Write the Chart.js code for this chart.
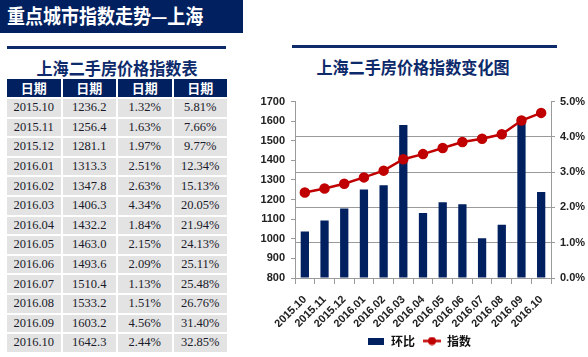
<!DOCTYPE html>
<html>
<head>
<meta charset="utf-8">
<script src="https://cdn.jsdelivr.net/npm/chart.js@4.4.1/dist/chart.umd.min.js"></script>
<style>
  html, body { margin:0; padding:0; background:#fff; width:588px; height:357px; overflow:hidden; position:relative; }
  .cjk { font-family: "Noto Sans CJK SC", "Noto Sans", sans-serif; }
  #hdr { position:absolute; left:0; top:0; width:243px; height:33px; background:#002060; }
  #hdr span { position:absolute; left:7px; top:3px; color:#fff; font-weight:700; font-size:20px; line-height:26px; white-space:nowrap; transform:scaleX(0.9); transform-origin:left center; }
  .rule { position:absolute; height:3px; background:#0d2a6b; }
  .ttl { position:absolute; color:#0d2a6b; font-weight:700; font-size:17.5px; line-height:22px; white-space:nowrap; transform:translateX(-50%) scaleX(0.92); }
  #tbl { position:absolute; left:5px; top:77px; border-collapse:separate; border-spacing:2px; }
  #tbl th { background:#002060; color:#fff; font-weight:700; font-size:13px; height:18px; padding:0; width:53.5px; line-height:18px; font-family:"Noto Sans CJK SC", sans-serif; }
  #tbl td { background:#e3e3e3; color:#1a1a2a; font-size:12.5px; height:17.6px; padding:0; text-align:center; font-family:"Liberation Serif", "Times New Roman", serif; line-height:17px; }
  #chartBox { position:absolute; left:250px; top:89px; width:338px; height:268px; }
</style>
</head>
<body>
<div id="hdr" class="cjk"><span>重点城市指数走势—上海</span></div>
<div class="rule" style="left:7px; top:46px; width:219px;"></div>
<div class="rule" style="left:292px; top:45px; width:265px;"></div>
<div class="ttl cjk" style="left:117px; top:57px;">上海二手房价格指数表</div>
<div class="ttl cjk" style="left:413px; top:56px;">上海二手房价格指数变化图</div>
<table id="tbl"><thead><tr id="thead"></tr></thead><tbody id="tbody"></tbody></table>
<div id="chartBox"><canvas id="c" width="338" height="268"></canvas></div>
<script>
// ---- data ----
const headerLabels = ["日期", "日期", "日期", "日期"];
const categories = ["2015.10","2015.11","2015.12","2016.01","2016.02","2016.03","2016.04","2016.05","2016.06","2016.07","2016.08","2016.09","2016.10"];
const indexValues = [1236.2, 1256.4, 1281.1, 1313.3, 1347.8, 1406.3, 1432.2, 1463.0, 1493.6, 1510.4, 1533.2, 1603.2, 1642.3];
const momValues = [1.32, 1.63, 1.97, 2.51, 2.63, 4.34, 1.84, 2.15, 2.09, 1.13, 1.51, 4.56, 2.44];
const yoyValues = [5.81, 7.66, 9.77, 12.34, 15.13, 20.05, 21.94, 24.13, 25.11, 25.48, 26.76, 31.40, 32.85];
const seriesNames = ["环比", "指数"];

// ---- table ----
const thead = document.getElementById('thead');
headerLabels.forEach(h => { const th = document.createElement('th'); th.textContent = h; thead.appendChild(th); });
const tbody = document.getElementById('tbody');
categories.forEach((c, i) => {
  const tr = document.createElement('tr');
  [c, indexValues[i].toFixed(1), momValues[i].toFixed(2) + '%', yoyValues[i].toFixed(2) + '%'].forEach(v => {
    const td = document.createElement('td'); td.textContent = v; tr.appendChild(td);
  });
  tbody.appendChild(tr);
});

// ---- legend icons ----
const NAVY = '#002060', RED = '#C00000', GRID = '#9a9a9a';
function barIcon() {
  const cv = document.createElement('canvas'); cv.width = 16; cv.height = 7;
  const g = cv.getContext('2d'); g.fillStyle = NAVY; g.fillRect(0, 0, 16, 7); return cv;
}
function lineIcon() {
  const cv = document.createElement('canvas'); cv.width = 18; cv.height = 9;
  const g = cv.getContext('2d'); g.strokeStyle = RED; g.lineWidth = 2.5;
  g.beginPath(); g.moveTo(0, 4.5); g.lineTo(18, 4.5); g.stroke();
  g.fillStyle = RED; g.beginPath(); g.arc(9, 4.5, 4, 0, Math.PI * 2); g.fill(); return cv;
}
const icons = [barIcon(), lineIcon()];

const tickFont = { family: '"Liberation Sans Narrow", "Liberation Sans", Arial, sans-serif', weight: 'bold', size: 11 };

new Chart(document.getElementById('c'), {
  data: {
    labels: categories,
    datasets: [
      { type: 'bar', label: seriesNames[0], data: momValues, yAxisID: 'y1', backgroundColor: NAVY,
        barPercentage: 0.42, categoryPercentage: 1, order: 2 },
      { type: 'line', label: seriesNames[1], data: indexValues, yAxisID: 'y', borderColor: RED, backgroundColor: RED,
        borderWidth: 2.5, pointRadius: 4, pointHoverRadius: 4, pointBackgroundColor: RED, pointBorderColor: RED, tension: 0, order: 1 }
    ]
  },
  options: {
    responsive: false, animation: false, devicePixelRatio: 1,
    layout: { padding: { top: 10, left: 0, right: 0, bottom: 0 } },
    plugins: {
      title: { display: false },
      tooltip: { enabled: false },
      legend: {
        position: 'bottom',
        labels: {
          usePointStyle: true, pointStyleWidth: 18, boxHeight: 9, padding: 8,
          color: '#111', font: { family: '"Noto Sans CJK SC", sans-serif', weight: 'bold', size: 12 },
          sort: (a, b) => a.datasetIndex - b.datasetIndex,
          generateLabels(chart) {
            const items = Chart.defaults.plugins.legend.labels.generateLabels(chart);
            items.forEach(it => { it.pointStyle = icons[it.datasetIndex]; });
            return items;
          }
        }
      }
    },
    scales: {
      x: {
        offset: true,
        grid: { offset: true, drawOnChartArea: false, color: GRID, tickLength: 6 },
        border: { color: GRID },
        ticks: { maxRotation: 45, minRotation: 45, autoSkip: false, color: '#222', font: tickFont, padding: 9 },
        afterFit(s) { s.height = 49; }
      },
      y: {
        position: 'left', min: 800, max: 1700,
        ticks: { stepSize: 100, color: '#222', font: tickFont, padding: 6, callback: v => String(v) },
        grid: { drawOnChartArea: false, color: GRID, tickLength: 4 },
        border: { color: GRID },
        afterFit(s) { s.width = 45; }
      },
      y1: {
        position: 'right', min: 0, max: 5,
        ticks: { stepSize: 1, color: '#222', font: tickFont, padding: 5, callback: v => Number(v).toFixed(1) + '%' },
        grid: { color: ctx => (ctx.tick && ctx.tick.value === 5) ? 'rgba(0,0,0,0)' : GRID, tickColor: GRID, tickLength: 4 },
        border: { color: GRID },
        afterFit(s) { s.width = 37; }
      }
    }
  }
});
</script>
</body>
</html>
